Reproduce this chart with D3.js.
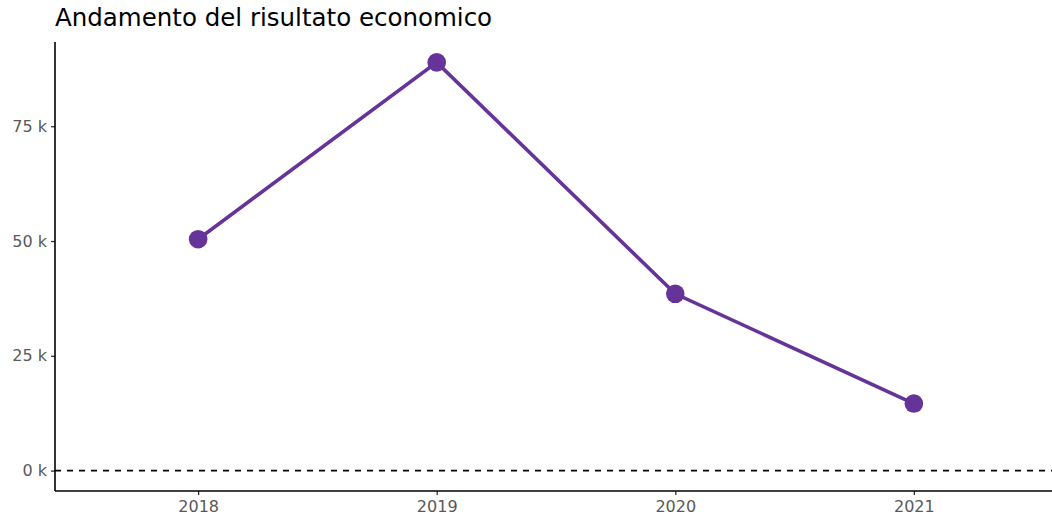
<!DOCTYPE html>
<html>
<head>
<meta charset="utf-8">
<script src="https://cdn.jsdelivr.net/npm/d3@7"></script>
<style>
  body { margin: 0; background: #fff; }
  svg text { font-family: 'DejaVu Sans', 'Verdana', sans-serif !important; }
</style>
</head>
<body>
<div id="chart"></div>
<script>
// data
const years = ["2018", "2019", "2020", "2021"]
const results = [50400, 88900, 38500, 14600]
const yTicks = [0, 25000, 50000, 75000]

const width = 1052
const height = 517
const margin = { top: 42, right: -5, bottom: 26, left: 55 }
const boundedWidth = width - margin.left - margin.right
const boundedHeight = height - margin.top - margin.bottom

const purple = "#663399"

const svg = d3.select("#chart")
  .append("svg")
    .attr("width", width)
    .attr("height", height)

// title
svg.append("text")
  .attr("x", 55)
  .attr("y", 26)
  .style("font-size", "24.5px")
  .attr("fill", "#000")
  .text("Andamento del risultato economico")

const g = svg.append("g")
  .attr("transform", "translate(" + margin.left + "," + margin.top + ")")

// discrete x with 0.6 expansion like ggplot
const x = d3.scalePoint()
  .domain(years)
  .range([0, boundedWidth])
  .padding(0.6)

const yMax = d3.max(results)
const pad = yMax * 0.05
const y = d3.scaleLinear()
  .domain([-pad, yMax + pad])
  .range([boundedHeight, 0])

// zero reference line
g.append("line")
  .attr("x1", 0)
  .attr("x2", width - margin.left)
  .attr("y1", y(0))
  .attr("y2", y(0))
  .attr("stroke", "#000")
  .attr("stroke-width", 1.6)
  .attr("stroke-dasharray", "6,6")

// axes
const yAxis = g.append("g")
  .call(d3.axisLeft(y)
    .tickValues(yTicks)
    .tickSize(4)
    .tickPadding(4)
    .tickFormat(d => (d / 1000) + " k"))
const xAxis = g.append("g")
  .attr("transform", "translate(0," + boundedHeight + ")")
  .call(d3.axisBottom(x)
    .tickSize(4)
    .tickPadding(6))

;[yAxis, xAxis].forEach(ax => {
  ax.attr("font-family", null).attr("font-size", null)
  ax.select(".domain").remove()
  ax.selectAll(".tick line").attr("stroke", "#333").attr("stroke-width", 1.3)
  ax.selectAll(".tick text").attr("fill", "#595959").style("font-size", "16px")
})
g.append("line")
  .attr("x1", 0).attr("x2", 0)
  .attr("y1", 0).attr("y2", boundedHeight)
  .attr("stroke", "#000").attr("stroke-width", 1.6)
g.append("line")
  .attr("x1", 0).attr("x2", width - margin.left)
  .attr("y1", boundedHeight).attr("y2", boundedHeight)
  .attr("stroke", "#000").attr("stroke-width", 1.6)

// line
const line = d3.line()
  .x((d, i) => x(years[i]))
  .y(d => y(d))

g.append("path")
  .datum(results)
  .attr("d", line)
  .attr("fill", "none")
  .attr("stroke", purple)
  .attr("stroke-width", 3.6)

// points
g.selectAll("circle")
  .data(results)
  .enter()
  .append("circle")
    .attr("cx", (d, i) => x(years[i]))
    .attr("cy", d => y(d))
    .attr("r", 9.3)
    .attr("fill", purple)
</script>
</body>
</html>
